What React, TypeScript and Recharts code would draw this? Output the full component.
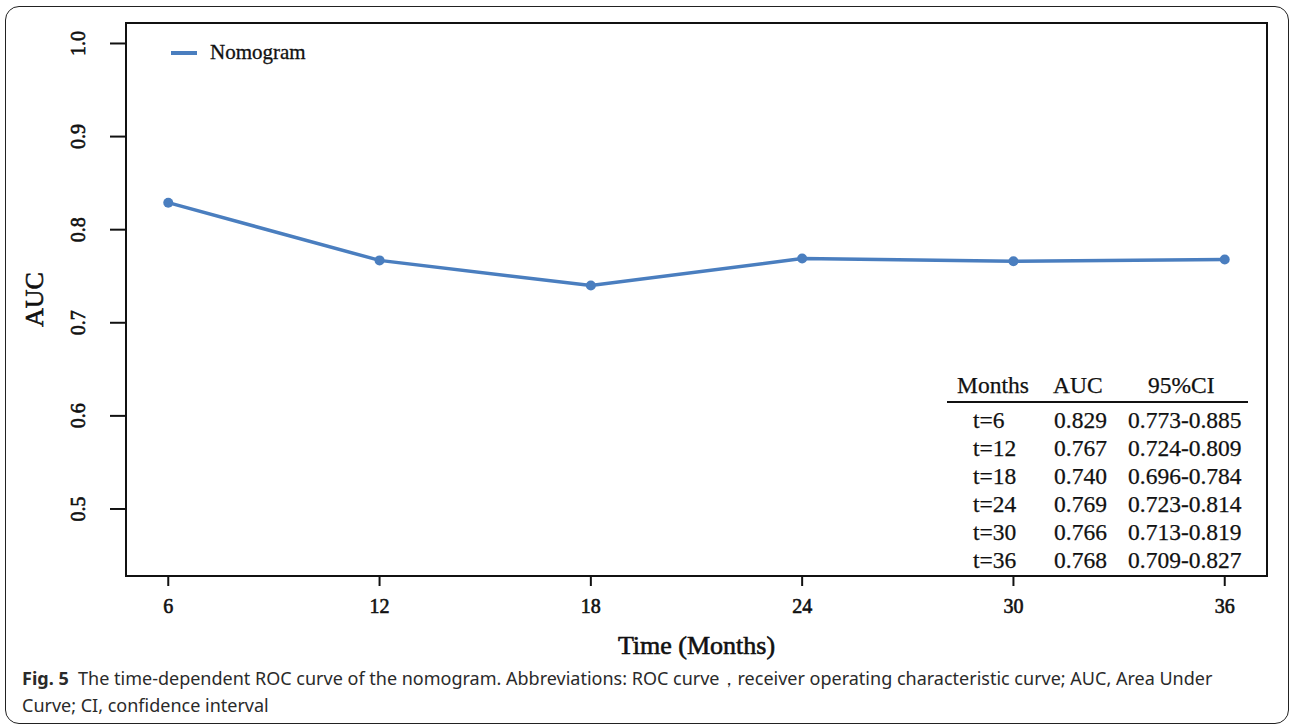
import React from "react";
import {
  LineChart,
  Line,
  XAxis,
  YAxis,
  ReferenceArea,
  Legend,
  Label,
} from "recharts";

// ---- data ------------------------------------------------------------
const MONTHS = [6, 12, 18, 24, 30, 36];
const AUC = [0.829, 0.767, 0.74, 0.769, 0.766, 0.768];
const CI = [
  "0.773-0.885",
  "0.724-0.809",
  "0.696-0.784",
  "0.723-0.814",
  "0.713-0.819",
  "0.709-0.827",
];
const Y_TICKS = [0.5, 0.6, 0.7, 0.8, 0.9, 1.0];
const X_DOMAIN: [number, number] = [4.8, 37.2];
const Y_DOMAIN: [number, number] = [0.428, 1.022];

const chartData = MONTHS.map((m, i) => ({ month: m, auc: AUC[i] }));

const SERIF = "'Liberation Serif', 'Times New Roman', serif";
const SANS = "'Noto Sans', 'Open Sans', sans-serif";
const BLUE = "#4a7ebf";
const INK = "#111";

// eslint-disable-next-line @typescript-eslint/no-explicit-any
function XTick(props: any) {
  const { x, y, payload } = props;
  return (
    <text
      x={x}
      y={y}
      dy={25}
      textAnchor="middle"
      fontFamily={SERIF}
      fontSize={20}
      fill={INK}
      stroke={INK}
      strokeWidth={0.6}
    >
      {payload.value}
    </text>
  );
}

// eslint-disable-next-line @typescript-eslint/no-explicit-any
function YTick(props: any) {
  const { y, payload } = props;
  const bx = 85;
  return (
    <text
      x={bx}
      y={y}
      textAnchor="middle"
      transform={`rotate(-90, ${bx}, ${y})`}
      fontFamily={SERIF}
      fontSize={20}
      fill={INK}
      stroke={INK}
      strokeWidth={0.6}
    >
      {Number(payload.value).toFixed(1)}
    </text>
  );
}

function LegendBox() {
  return (
    <div
      style={{
        display: "flex",
        alignItems: "center",
        fontFamily: SERIF,
        fontSize: 21,
        color: INK,
        WebkitTextStroke: "0.3px #111",
      }}
    >
      <span style={{ display: "inline-block", width: 26, height: 4, background: BLUE, marginRight: 13 }} />
      <span>Nomogram</span>
    </div>
  );
}

function AucTable() {
  const cell: React.CSSProperties = { position: "absolute", whiteSpace: "nowrap" };
  return (
    <div
      style={{
        position: "absolute",
        left: 947,
        top: 371,
        width: 301,
        fontFamily: SERIF,
        fontSize: 23.5,
        color: INK,
        lineHeight: "28px",
        WebkitTextStroke: "0.25px #111",
      }}
    >
      <div style={{ position: "relative", height: 30, borderBottom: "2px solid #111" }}>
        <span style={{ ...cell, left: 10 }}>Months</span>
        <span style={{ ...cell, left: 106 }}>AUC</span>
        <span style={{ ...cell, left: 201 }}>95%CI</span>
      </div>
      <div style={{ position: "relative", paddingTop: 3 }}>
        {MONTHS.map((m, i) => (
          <div key={m} style={{ position: "relative", height: 28 }}>
            <span style={{ ...cell, left: 26 }}>t={m}</span>
            <span style={{ ...cell, left: 107 }}>{AUC[i].toFixed(3)}</span>
            <span style={{ ...cell, left: 181 }}>{CI[i]}</span>
          </div>
        ))}
      </div>
    </div>
  );
}

export default function App() {
  return (
    <div style={{ position: "absolute", left: 0, top: 0, width: 1290, height: 726, background: "#fff", overflow: "hidden" }}>
      <div
        style={{
          position: "absolute",
          left: 5,
          top: 6,
          width: 1282,
          height: 716,
          border: "1.5px solid #222",
          borderRadius: 14,
        }}
      />
      <div style={{ position: "absolute", left: 0, top: 0 }}>
        <LineChart
          width={1290}
          height={726}
          data={chartData}
          margin={{ top: 23, right: 23, bottom: 80, left: 66 }}
        >
          <XAxis
            dataKey="month"
            type="number"
            domain={X_DOMAIN}
            ticks={MONTHS}
            allowDataOverflow
            axisLine={false}
            tickLine={{ stroke: INK, strokeWidth: 2 }}
            tickSize={10}
            height={70}
            tick={<XTick />}
          >
            <Label
              content={(p: any) => {
                const vb = p.viewBox;
                return (
                  <text
                    x={vb.x + vb.width / 2}
                    y={vb.y + 78}
                    textAnchor="middle"
                    fontFamily={SERIF}
                    fontSize={26}
                    fill={INK}
                    stroke={INK}
                    strokeWidth={0.6}
                  >
                    Time (Months)
                  </text>
                );
              }}
            />
          </XAxis>
          <YAxis
            type="number"
            domain={Y_DOMAIN}
            ticks={Y_TICKS}
            allowDataOverflow
            axisLine={false}
            tickLine={{ stroke: INK, strokeWidth: 2 }}
            tickSize={16}
            width={60}
            tick={<YTick />}
          >
            <Label
              content={(p: any) => {
                const vb = p.viewBox;
                const cy = vb.y + vb.height / 2;
                return (
                  <text
                    x={43}
                    y={cy}
                    textAnchor="middle"
                    transform={`rotate(-90, 43, ${cy})`}
                    fontFamily={SERIF}
                    fontSize={26}
                    fill={INK}
                    stroke={INK}
                    strokeWidth={0.6}
                  >
                    AUC
                  </text>
                );
              }}
            />
          </YAxis>
          <ReferenceArea
            x1={X_DOMAIN[0]}
            x2={X_DOMAIN[1]}
            y1={Y_DOMAIN[0]}
            y2={Y_DOMAIN[1]}
            fill="none"
            stroke={INK}
            strokeWidth={2}
            fillOpacity={0}
            ifOverflow="visible"
          />
          <Legend
            layout="vertical"
            align="center"
            verticalAlign="middle"
            content={<LegendBox />}
            wrapperStyle={{ left: 171, top: 40, width: 200, height: 26 }}
          />
          <Line
            type="linear"
            dataKey="auc"
            name="Nomogram"
            stroke={BLUE}
            strokeWidth={3.5}
            dot={{ r: 5, fill: BLUE, stroke: "none" }}
            activeDot={false}
            isAnimationActive={false}
          />
        </LineChart>
      </div>
      <AucTable />
      <div
        style={{
          position: "absolute",
          left: 22,
          top: 665,
          fontFamily: SANS,
          fontSize: 18,
          lineHeight: "27px",
          color: "#2a2a2a",
          whiteSpace: "nowrap",
        }}
      >
        <div>
          <b>Fig. 5</b>&nbsp;&nbsp;The time-dependent ROC curve of the nomogram. Abbreviations: ROC curve，receiver operating characteristic curve; AUC, Area Under
        </div>
        <div>Curve; CI, confidence interval</div>
      </div>
    </div>
  );
}
